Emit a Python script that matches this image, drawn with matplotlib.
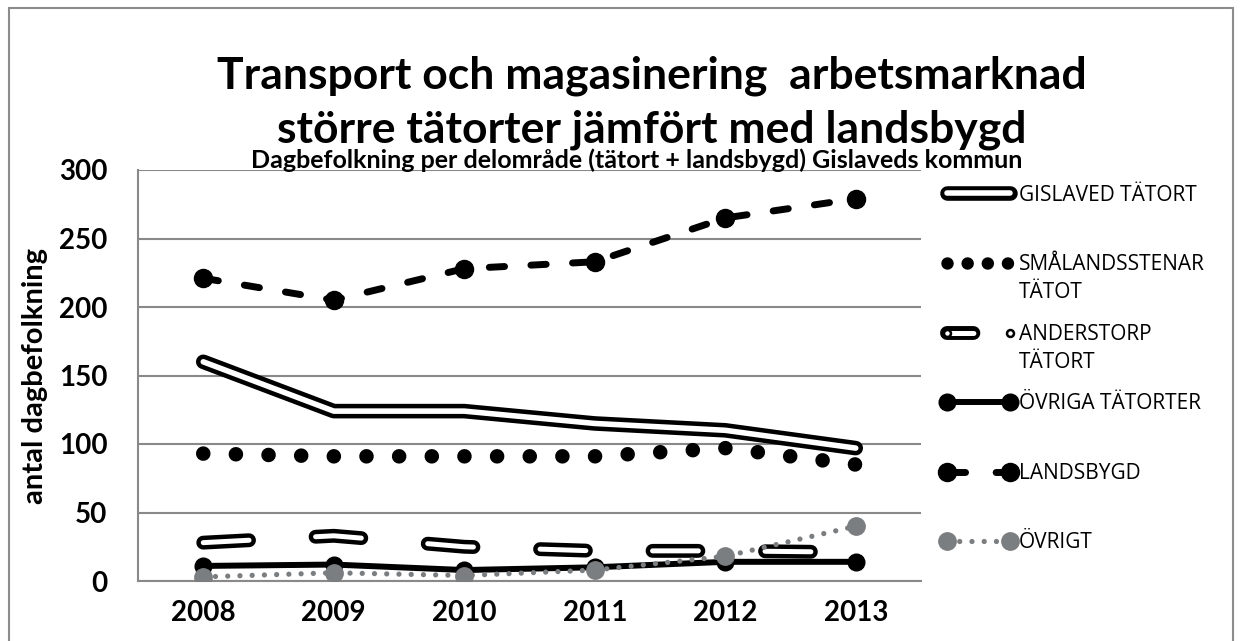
import numpy as np
import matplotlib
matplotlib.use('Agg')
import matplotlib.pyplot as plt
import matplotlib.patheffects as pe
from matplotlib.lines import Line2D
from matplotlib.patches import Rectangle

plt.rcParams['lines.scale_dashes'] = False
plt.rcParams['font.family'] = ['Lato', 'DejaVu Sans']

years = ['2008', '2009', '2010', '2011', '2012', '2013']
gislaved = [160, 124, 124, 115, 110, 97]
smalandsstenar = [93, 91, 91, 91, 97, 85]
anderstorp = [28, 33, 25, 22, 22, 21]
ovriga_tatorter = [11, 12, 8, 10, 14, 14]
landsbygd = [221, 205, 228, 233, 265, 279]
ovrigt = [3, 6, 4, 8, 18, 40]

# legend names (Excel wraps two of them onto a second line)
labels = ['GISLAVED TÄTORT', 'SMÅLANDSSTENAR', 'ANDERSTORP',
          'ÖVRIGA TÄTORTER', 'LANDSBYGD', 'ÖVRIGT']
second_lines = {1: 'TÄTOT', 2: 'TÄTORT'}

grid_c = '#898989'
grey = '#7b7e81'

fig = plt.figure(figsize=(12.41, 6.41), dpi=100)
ax = fig.add_axes([138/1241, 1-581/641, (921-138)/1241, (581-170)/641])

x = np.arange(len(years))

double = dict(solid_capstyle='round', solid_joinstyle='round',
              dash_capstyle='round', dash_joinstyle='round')

ax.plot(x, gislaved, color='white', lw=4.0, zorder=3,
        path_effects=[pe.Stroke(linewidth=10.5, foreground='black'), pe.Normal()], **double)
ax.plot(x, smalandsstenar, color='black', lw=10.5, linestyle=(0, (0.01, 23.5)),
        dash_capstyle='round', zorder=2)
ax.plot(x, anderstorp, color='white', lw=3.6, linestyle=(0, (33, 48)), zorder=4,
        path_effects=[pe.Stroke(linewidth=10, foreground='black'), pe.Normal()], **double)
ax.plot(x, ovriga_tatorter, color='black', lw=4.3, marker='o', markersize=12, zorder=5)
ax.plot(x, landsbygd, color='black', lw=5, linestyle=(0, (11, 19)), dash_capstyle='round',
        marker='o', markersize=13, zorder=6)
ax.plot(x, ovrigt, color=grey, lw=3.8, linestyle=(0, (0.01, 8.8)), dash_capstyle='round',
        marker='o', markersize=12.5, zorder=7)

# legend swatches (Excel draws them with shorter patterns)
anders_swatch = Line2D([], [], color='white', lw=3.6, linestyle=(0, (19, 60)),
                       path_effects=[pe.Stroke(linewidth=10, foreground='black'), pe.Normal()],
                       **double)
anders_dot = Line2D([], [], linestyle='none', marker='o', markersize=5, markevery=[1],
                    markerfacecolor='white', markeredgecolor='black', markeredgewidth=1.8)
handles = [
    Line2D([], [], color='white', lw=4.0,
           path_effects=[pe.Stroke(linewidth=10.5, foreground='black'), pe.Normal()], **double),
    Line2D([], [], color='black', lw=9, linestyle=(0, (0.01, 14.5)), dash_capstyle='round'),
    (anders_swatch, anders_dot),
    Line2D([], [], color='black', lw=4.3, marker='o', markersize=12),
    Line2D([], [], color='black', lw=5, linestyle=(0, (13, 22)), dash_capstyle='round',
           marker='o', markersize=13),
    Line2D([], [], color=grey, lw=3.8, linestyle=(0, (0.01, 8.8)), dash_capstyle='round',
           marker='o', markersize=12.5),
]

ax.set_xlim(-0.5, len(years) - 0.5)
ax.set_ylim(0, 300)
ax.set_yticks(np.arange(0, 301, 50))
ax.set_xticks(x)
ax.set_xticklabels(years)
ax.grid(axis='y', color=grid_c, lw=1.5)
ax.set_axisbelow(True)
for s in ['top', 'right']:
    ax.spines[s].set_visible(False)
for s in ['left', 'bottom']:
    ax.spines[s].set_color(grid_c)
    ax.spines[s].set_linewidth(1.5)
ax.tick_params(length=0)
ax.tick_params(axis='y', pad=22, labelsize=20)
ax.tick_params(axis='x', pad=14, labelsize=20)
for t in ax.get_xticklabels() + ax.get_yticklabels():
    t.set_fontweight('bold')
ax.set_ylabel('antal dagbefolkning', fontsize=21, fontweight='bold', labelpad=8)

leg = ax.legend(handles, labels, loc='upper left', bbox_to_anchor=(922/1241, 1-166/641),
                bbox_transform=fig.transFigure, frameon=False, numpoints=2,
                handlelength=3.6, handletextpad=0.15, labelspacing=2.33,
                prop={'family': 'Open Sans', 'size': 15})

for i, txt in second_lines.items():
    ax.annotate(txt, xy=(0, 0.5), xycoords=leg.get_texts()[i],
                xytext=(0, -28), textcoords='offset pixels',
                ha='left', va='center', family='Open Sans', fontsize=15,
                annotation_clip=False, zorder=20)

fig.text(652/1241, 1-76/641, 'Transport och magasinering  arbetsmarknad',
         ha='center', va='center', fontsize=32, fontweight='bold')
fig.text(652/1241, 1-130/641, 'större tätorter jämfört med landsbygd',
         ha='center', va='center', fontsize=32, fontweight='bold')
fig.text(637/1241, 1-160/641, 'Dagbefolkning per delområde (tätort + landsbygd) Gislaveds kommun',
         ha='center', va='center', fontsize=18, fontweight='bold')

fig.add_artist(Rectangle((9/1241, -0.05), (1233-9)/1241, 1.05-8/641,
                         transform=fig.transFigure, fill=False, ec='#8c8c8c', lw=1.5))

fig.savefig('out.png', dpi=100)
